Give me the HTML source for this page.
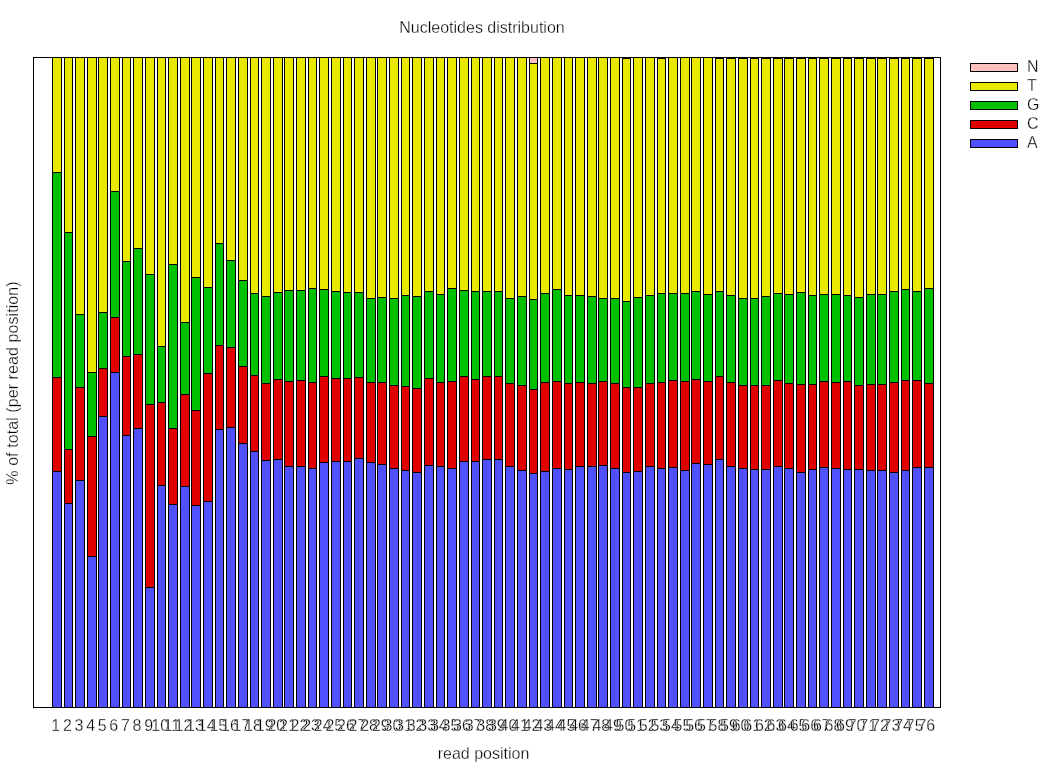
<!DOCTYPE html>
<html><head><meta charset="utf-8"><title>Nucleotides distribution</title>
<style>
html,body{margin:0;padding:0;background:#fff;}
body{width:1048px;height:768px;overflow:hidden;position:relative;font-family:"Liberation Sans",Arial,sans-serif;}
svg{position:absolute;left:0;top:0;}
text{font-family:"Liberation Sans",Arial,sans-serif;font-size:16px;fill:#000;stroke:#fff;stroke-width:.3px;}
</style></head><body>
<svg width="1048" height="768" viewBox="0 0 1048 768">
<rect x="0" y="0" width="1048" height="768" fill="#fff"/>
<g shape-rendering="crispEdges">
<rect x="33" y="57" width="908" height="651" fill="#000"/>
<rect x="34" y="58" width="906" height="649" fill="#fff"/>
<rect x="52" y="57" width="10" height="651" fill="#000"/><rect x="53" y="58" width="8" height="114" fill="#e8e800"/><rect x="53" y="173" width="8" height="204" fill="#00c000"/><rect x="53" y="378" width="8" height="93" fill="#e00000"/><rect x="53" y="472" width="8" height="235" fill="#5050ff"/>
<rect x="64" y="57" width="9" height="651" fill="#000"/><rect x="65" y="58" width="7" height="174" fill="#e8e800"/><rect x="65" y="233" width="7" height="216" fill="#00c000"/><rect x="65" y="450" width="7" height="53" fill="#e00000"/><rect x="65" y="504" width="7" height="203" fill="#5050ff"/>
<rect x="75" y="57" width="10" height="651" fill="#000"/><rect x="76" y="58" width="8" height="256" fill="#e8e800"/><rect x="76" y="315" width="8" height="72" fill="#00c000"/><rect x="76" y="388" width="8" height="92" fill="#e00000"/><rect x="76" y="481" width="8" height="226" fill="#5050ff"/>
<rect x="87" y="57" width="10" height="651" fill="#000"/><rect x="88" y="58" width="8" height="314" fill="#e8e800"/><rect x="88" y="373" width="8" height="63" fill="#00c000"/><rect x="88" y="437" width="8" height="119" fill="#e00000"/><rect x="88" y="557" width="8" height="150" fill="#5050ff"/>
<rect x="98" y="57" width="10" height="651" fill="#000"/><rect x="99" y="58" width="8" height="254" fill="#e8e800"/><rect x="99" y="313" width="8" height="55" fill="#00c000"/><rect x="99" y="369" width="8" height="47" fill="#e00000"/><rect x="99" y="417" width="8" height="290" fill="#5050ff"/>
<rect x="110" y="57" width="10" height="651" fill="#000"/><rect x="111" y="58" width="8" height="133" fill="#e8e800"/><rect x="111" y="192" width="8" height="125" fill="#00c000"/><rect x="111" y="318" width="8" height="54" fill="#e00000"/><rect x="111" y="373" width="8" height="334" fill="#5050ff"/>
<rect x="122" y="57" width="9" height="651" fill="#000"/><rect x="123" y="58" width="7" height="203" fill="#e8e800"/><rect x="123" y="262" width="7" height="94" fill="#00c000"/><rect x="123" y="357" width="7" height="78" fill="#e00000"/><rect x="123" y="436" width="7" height="271" fill="#5050ff"/>
<rect x="133" y="57" width="10" height="651" fill="#000"/><rect x="134" y="58" width="8" height="190" fill="#e8e800"/><rect x="134" y="249" width="8" height="105" fill="#00c000"/><rect x="134" y="355" width="8" height="73" fill="#e00000"/><rect x="134" y="429" width="8" height="278" fill="#5050ff"/>
<rect x="145" y="57" width="10" height="651" fill="#000"/><rect x="146" y="58" width="8" height="216" fill="#e8e800"/><rect x="146" y="275" width="8" height="129" fill="#00c000"/><rect x="146" y="405" width="8" height="182" fill="#e00000"/><rect x="146" y="588" width="8" height="119" fill="#5050ff"/>
<rect x="157" y="57" width="9" height="651" fill="#000"/><rect x="158" y="58" width="7" height="288" fill="#e8e800"/><rect x="158" y="347" width="7" height="55" fill="#00c000"/><rect x="158" y="403" width="7" height="82" fill="#e00000"/><rect x="158" y="486" width="7" height="221" fill="#5050ff"/>
<rect x="168" y="57" width="10" height="651" fill="#000"/><rect x="169" y="58" width="8" height="206" fill="#e8e800"/><rect x="169" y="265" width="8" height="163" fill="#00c000"/><rect x="169" y="429" width="8" height="75" fill="#e00000"/><rect x="169" y="505" width="8" height="202" fill="#5050ff"/>
<rect x="180" y="57" width="10" height="651" fill="#000"/><rect x="181" y="58" width="8" height="264" fill="#e8e800"/><rect x="181" y="323" width="8" height="71" fill="#00c000"/><rect x="181" y="395" width="8" height="91" fill="#e00000"/><rect x="181" y="487" width="8" height="220" fill="#5050ff"/>
<rect x="191" y="57" width="10" height="651" fill="#000"/><rect x="192" y="58" width="8" height="219" fill="#e8e800"/><rect x="192" y="278" width="8" height="132" fill="#00c000"/><rect x="192" y="411" width="8" height="94" fill="#e00000"/><rect x="192" y="506" width="8" height="201" fill="#5050ff"/>
<rect x="203" y="57" width="10" height="651" fill="#000"/><rect x="204" y="58" width="8" height="229" fill="#e8e800"/><rect x="204" y="288" width="8" height="85" fill="#00c000"/><rect x="204" y="374" width="8" height="127" fill="#e00000"/><rect x="204" y="502" width="8" height="205" fill="#5050ff"/>
<rect x="215" y="57" width="9" height="651" fill="#000"/><rect x="216" y="58" width="7" height="185" fill="#e8e800"/><rect x="216" y="244" width="7" height="101" fill="#00c000"/><rect x="216" y="346" width="7" height="83" fill="#e00000"/><rect x="216" y="430" width="7" height="277" fill="#5050ff"/>
<rect x="226" y="57" width="10" height="651" fill="#000"/><rect x="227" y="58" width="8" height="202" fill="#e8e800"/><rect x="227" y="261" width="8" height="86" fill="#00c000"/><rect x="227" y="348" width="8" height="79" fill="#e00000"/><rect x="227" y="428" width="8" height="279" fill="#5050ff"/>
<rect x="238" y="57" width="10" height="651" fill="#000"/><rect x="239" y="58" width="8" height="222" fill="#e8e800"/><rect x="239" y="281" width="8" height="85" fill="#00c000"/><rect x="239" y="367" width="8" height="76" fill="#e00000"/><rect x="239" y="444" width="8" height="263" fill="#5050ff"/>
<rect x="250" y="57" width="9" height="651" fill="#000"/><rect x="251" y="58" width="7" height="235" fill="#e8e800"/><rect x="251" y="294" width="7" height="81" fill="#00c000"/><rect x="251" y="376" width="7" height="75" fill="#e00000"/><rect x="251" y="452" width="7" height="255" fill="#5050ff"/>
<rect x="261" y="57" width="10" height="651" fill="#000"/><rect x="262" y="58" width="8" height="238" fill="#e8e800"/><rect x="262" y="297" width="8" height="86" fill="#00c000"/><rect x="262" y="384" width="8" height="76" fill="#e00000"/><rect x="262" y="461" width="8" height="246" fill="#5050ff"/>
<rect x="273" y="57" width="10" height="651" fill="#000"/><rect x="274" y="58" width="8" height="234" fill="#e8e800"/><rect x="274" y="293" width="8" height="86" fill="#00c000"/><rect x="274" y="380" width="8" height="79" fill="#e00000"/><rect x="274" y="460" width="8" height="247" fill="#5050ff"/>
<rect x="284" y="57" width="10" height="651" fill="#000"/><rect x="285" y="58" width="8" height="232" fill="#e8e800"/><rect x="285" y="291" width="8" height="90" fill="#00c000"/><rect x="285" y="382" width="8" height="84" fill="#e00000"/><rect x="285" y="467" width="8" height="240" fill="#5050ff"/>
<rect x="296" y="57" width="10" height="651" fill="#000"/><rect x="297" y="58" width="8" height="232" fill="#e8e800"/><rect x="297" y="291" width="8" height="89" fill="#00c000"/><rect x="297" y="381" width="8" height="85" fill="#e00000"/><rect x="297" y="467" width="8" height="240" fill="#5050ff"/>
<rect x="308" y="57" width="9" height="651" fill="#000"/><rect x="309" y="58" width="7" height="230" fill="#e8e800"/><rect x="309" y="289" width="7" height="93" fill="#00c000"/><rect x="309" y="383" width="7" height="85" fill="#e00000"/><rect x="309" y="469" width="7" height="238" fill="#5050ff"/>
<rect x="319" y="57" width="10" height="651" fill="#000"/><rect x="320" y="58" width="8" height="231" fill="#e8e800"/><rect x="320" y="290" width="8" height="86" fill="#00c000"/><rect x="320" y="377" width="8" height="85" fill="#e00000"/><rect x="320" y="463" width="8" height="244" fill="#5050ff"/>
<rect x="331" y="57" width="10" height="651" fill="#000"/><rect x="332" y="58" width="8" height="233" fill="#e8e800"/><rect x="332" y="292" width="8" height="86" fill="#00c000"/><rect x="332" y="379" width="8" height="82" fill="#e00000"/><rect x="332" y="462" width="8" height="245" fill="#5050ff"/>
<rect x="343" y="57" width="9" height="651" fill="#000"/><rect x="344" y="58" width="7" height="234" fill="#e8e800"/><rect x="344" y="293" width="7" height="85" fill="#00c000"/><rect x="344" y="379" width="7" height="82" fill="#e00000"/><rect x="344" y="462" width="7" height="245" fill="#5050ff"/>
<rect x="354" y="57" width="10" height="651" fill="#000"/><rect x="355" y="58" width="8" height="234" fill="#e8e800"/><rect x="355" y="293" width="8" height="84" fill="#00c000"/><rect x="355" y="378" width="8" height="80" fill="#e00000"/><rect x="355" y="459" width="8" height="248" fill="#5050ff"/>
<rect x="366" y="57" width="10" height="651" fill="#000"/><rect x="367" y="58" width="8" height="240" fill="#e8e800"/><rect x="367" y="299" width="8" height="83" fill="#00c000"/><rect x="367" y="383" width="8" height="79" fill="#e00000"/><rect x="367" y="463" width="8" height="244" fill="#5050ff"/>
<rect x="377" y="57" width="10" height="651" fill="#000"/><rect x="378" y="58" width="8" height="239" fill="#e8e800"/><rect x="378" y="298" width="8" height="84" fill="#00c000"/><rect x="378" y="383" width="8" height="81" fill="#e00000"/><rect x="378" y="465" width="8" height="242" fill="#5050ff"/>
<rect x="389" y="57" width="10" height="651" fill="#000"/><rect x="390" y="58" width="8" height="240" fill="#e8e800"/><rect x="390" y="299" width="8" height="86" fill="#00c000"/><rect x="390" y="386" width="8" height="82" fill="#e00000"/><rect x="390" y="469" width="8" height="238" fill="#5050ff"/>
<rect x="401" y="57" width="9" height="651" fill="#000"/><rect x="402" y="58" width="7" height="237" fill="#e8e800"/><rect x="402" y="296" width="7" height="90" fill="#00c000"/><rect x="402" y="387" width="7" height="83" fill="#e00000"/><rect x="402" y="471" width="7" height="236" fill="#5050ff"/>
<rect x="412" y="57" width="10" height="651" fill="#000"/><rect x="413" y="58" width="8" height="238" fill="#e8e800"/><rect x="413" y="297" width="8" height="91" fill="#00c000"/><rect x="413" y="389" width="8" height="83" fill="#e00000"/><rect x="413" y="473" width="8" height="234" fill="#5050ff"/>
<rect x="424" y="57" width="10" height="651" fill="#000"/><rect x="425" y="58" width="8" height="233" fill="#e8e800"/><rect x="425" y="292" width="8" height="86" fill="#00c000"/><rect x="425" y="379" width="8" height="86" fill="#e00000"/><rect x="425" y="466" width="8" height="241" fill="#5050ff"/>
<rect x="436" y="57" width="9" height="651" fill="#000"/><rect x="437" y="58" width="7" height="236" fill="#e8e800"/><rect x="437" y="295" width="7" height="87" fill="#00c000"/><rect x="437" y="383" width="7" height="83" fill="#e00000"/><rect x="437" y="467" width="7" height="240" fill="#5050ff"/>
<rect x="447" y="57" width="10" height="651" fill="#000"/><rect x="448" y="58" width="8" height="230" fill="#e8e800"/><rect x="448" y="289" width="8" height="92" fill="#00c000"/><rect x="448" y="382" width="8" height="86" fill="#e00000"/><rect x="448" y="469" width="8" height="238" fill="#5050ff"/>
<rect x="459" y="57" width="10" height="651" fill="#000"/><rect x="460" y="58" width="8" height="232" fill="#e8e800"/><rect x="460" y="291" width="8" height="85" fill="#00c000"/><rect x="460" y="377" width="8" height="84" fill="#e00000"/><rect x="460" y="462" width="8" height="245" fill="#5050ff"/>
<rect x="471" y="57" width="9" height="651" fill="#000"/><rect x="472" y="58" width="7" height="233" fill="#e8e800"/><rect x="472" y="292" width="7" height="87" fill="#00c000"/><rect x="472" y="380" width="7" height="81" fill="#e00000"/><rect x="472" y="462" width="7" height="245" fill="#5050ff"/>
<rect x="482" y="57" width="10" height="651" fill="#000"/><rect x="483" y="58" width="8" height="233" fill="#e8e800"/><rect x="483" y="292" width="8" height="84" fill="#00c000"/><rect x="483" y="377" width="8" height="82" fill="#e00000"/><rect x="483" y="460" width="8" height="247" fill="#5050ff"/>
<rect x="494" y="57" width="9" height="651" fill="#000"/><rect x="495" y="58" width="7" height="233" fill="#e8e800"/><rect x="495" y="292" width="7" height="84" fill="#00c000"/><rect x="495" y="377" width="7" height="82" fill="#e00000"/><rect x="495" y="460" width="7" height="247" fill="#5050ff"/>
<rect x="505" y="57" width="10" height="651" fill="#000"/><rect x="506" y="58" width="8" height="240" fill="#e8e800"/><rect x="506" y="299" width="8" height="84" fill="#00c000"/><rect x="506" y="384" width="8" height="82" fill="#e00000"/><rect x="506" y="467" width="8" height="240" fill="#5050ff"/>
<rect x="517" y="57" width="10" height="651" fill="#000"/><rect x="518" y="58" width="8" height="238" fill="#e8e800"/><rect x="518" y="297" width="8" height="88" fill="#00c000"/><rect x="518" y="386" width="8" height="84" fill="#e00000"/><rect x="518" y="471" width="8" height="236" fill="#5050ff"/>
<rect x="529" y="57" width="9" height="651" fill="#000"/><rect x="530" y="58" width="7" height="5" fill="#ffc0c0"/><rect x="530" y="64" width="7" height="235" fill="#e8e800"/><rect x="530" y="300" width="7" height="89" fill="#00c000"/><rect x="530" y="390" width="7" height="83" fill="#e00000"/><rect x="530" y="474" width="7" height="233" fill="#5050ff"/>
<rect x="540" y="57" width="10" height="651" fill="#000"/><rect x="541" y="58" width="8" height="235" fill="#e8e800"/><rect x="541" y="294" width="8" height="88" fill="#00c000"/><rect x="541" y="383" width="8" height="88" fill="#e00000"/><rect x="541" y="472" width="8" height="235" fill="#5050ff"/>
<rect x="552" y="57" width="10" height="651" fill="#000"/><rect x="553" y="58" width="8" height="231" fill="#e8e800"/><rect x="553" y="290" width="8" height="91" fill="#00c000"/><rect x="553" y="382" width="8" height="86" fill="#e00000"/><rect x="553" y="469" width="8" height="238" fill="#5050ff"/>
<rect x="564" y="57" width="9" height="651" fill="#000"/><rect x="565" y="58" width="7" height="237" fill="#e8e800"/><rect x="565" y="296" width="7" height="87" fill="#00c000"/><rect x="565" y="384" width="7" height="85" fill="#e00000"/><rect x="565" y="470" width="7" height="237" fill="#5050ff"/>
<rect x="575" y="57" width="10" height="651" fill="#000"/><rect x="576" y="58" width="8" height="237" fill="#e8e800"/><rect x="576" y="296" width="8" height="86" fill="#00c000"/><rect x="576" y="383" width="8" height="83" fill="#e00000"/><rect x="576" y="467" width="8" height="240" fill="#5050ff"/>
<rect x="587" y="57" width="10" height="651" fill="#000"/><rect x="588" y="58" width="8" height="238" fill="#e8e800"/><rect x="588" y="297" width="8" height="86" fill="#00c000"/><rect x="588" y="384" width="8" height="82" fill="#e00000"/><rect x="588" y="467" width="8" height="240" fill="#5050ff"/>
<rect x="598" y="57" width="10" height="651" fill="#000"/><rect x="599" y="58" width="8" height="240" fill="#e8e800"/><rect x="599" y="299" width="8" height="82" fill="#00c000"/><rect x="599" y="382" width="8" height="83" fill="#e00000"/><rect x="599" y="466" width="8" height="241" fill="#5050ff"/>
<rect x="610" y="57" width="10" height="651" fill="#000"/><rect x="611" y="58" width="8" height="240" fill="#e8e800"/><rect x="611" y="299" width="8" height="84" fill="#00c000"/><rect x="611" y="384" width="8" height="84" fill="#e00000"/><rect x="611" y="469" width="8" height="238" fill="#5050ff"/>
<rect x="622" y="57" width="9" height="651" fill="#000"/><rect x="623" y="59" width="7" height="242" fill="#e8e800"/><rect x="623" y="302" width="7" height="85" fill="#00c000"/><rect x="623" y="388" width="7" height="84" fill="#e00000"/><rect x="623" y="473" width="7" height="234" fill="#5050ff"/>
<rect x="633" y="57" width="10" height="651" fill="#000"/><rect x="634" y="58" width="8" height="239" fill="#e8e800"/><rect x="634" y="298" width="8" height="89" fill="#00c000"/><rect x="634" y="388" width="8" height="83" fill="#e00000"/><rect x="634" y="472" width="8" height="235" fill="#5050ff"/>
<rect x="645" y="57" width="10" height="651" fill="#000"/><rect x="646" y="58" width="8" height="237" fill="#e8e800"/><rect x="646" y="296" width="8" height="87" fill="#00c000"/><rect x="646" y="384" width="8" height="82" fill="#e00000"/><rect x="646" y="467" width="8" height="240" fill="#5050ff"/>
<rect x="657" y="57" width="9" height="651" fill="#000"/><rect x="658" y="59" width="7" height="234" fill="#e8e800"/><rect x="658" y="294" width="7" height="88" fill="#00c000"/><rect x="658" y="383" width="7" height="85" fill="#e00000"/><rect x="658" y="469" width="7" height="238" fill="#5050ff"/>
<rect x="668" y="57" width="10" height="651" fill="#000"/><rect x="669" y="58" width="8" height="235" fill="#e8e800"/><rect x="669" y="294" width="8" height="86" fill="#00c000"/><rect x="669" y="381" width="8" height="86" fill="#e00000"/><rect x="669" y="468" width="8" height="239" fill="#5050ff"/>
<rect x="680" y="57" width="10" height="651" fill="#000"/><rect x="681" y="58" width="8" height="235" fill="#e8e800"/><rect x="681" y="294" width="8" height="87" fill="#00c000"/><rect x="681" y="382" width="8" height="88" fill="#e00000"/><rect x="681" y="471" width="8" height="236" fill="#5050ff"/>
<rect x="691" y="57" width="10" height="651" fill="#000"/><rect x="692" y="58" width="8" height="233" fill="#e8e800"/><rect x="692" y="292" width="8" height="87" fill="#00c000"/><rect x="692" y="380" width="8" height="83" fill="#e00000"/><rect x="692" y="464" width="8" height="243" fill="#5050ff"/>
<rect x="703" y="57" width="10" height="651" fill="#000"/><rect x="704" y="58" width="8" height="236" fill="#e8e800"/><rect x="704" y="295" width="8" height="86" fill="#00c000"/><rect x="704" y="382" width="8" height="82" fill="#e00000"/><rect x="704" y="465" width="8" height="242" fill="#5050ff"/>
<rect x="715" y="57" width="9" height="651" fill="#000"/><rect x="716" y="59" width="7" height="232" fill="#e8e800"/><rect x="716" y="292" width="7" height="84" fill="#00c000"/><rect x="716" y="377" width="7" height="82" fill="#e00000"/><rect x="716" y="460" width="7" height="247" fill="#5050ff"/>
<rect x="726" y="57" width="10" height="651" fill="#000"/><rect x="727" y="59" width="8" height="236" fill="#e8e800"/><rect x="727" y="296" width="8" height="86" fill="#00c000"/><rect x="727" y="383" width="8" height="83" fill="#e00000"/><rect x="727" y="467" width="8" height="240" fill="#5050ff"/>
<rect x="738" y="57" width="10" height="651" fill="#000"/><rect x="739" y="59" width="8" height="239" fill="#e8e800"/><rect x="739" y="299" width="8" height="86" fill="#00c000"/><rect x="739" y="386" width="8" height="82" fill="#e00000"/><rect x="739" y="469" width="8" height="238" fill="#5050ff"/>
<rect x="750" y="57" width="9" height="651" fill="#000"/><rect x="751" y="59" width="7" height="239" fill="#e8e800"/><rect x="751" y="299" width="7" height="86" fill="#00c000"/><rect x="751" y="386" width="7" height="83" fill="#e00000"/><rect x="751" y="470" width="7" height="237" fill="#5050ff"/>
<rect x="761" y="57" width="10" height="651" fill="#000"/><rect x="762" y="59" width="8" height="237" fill="#e8e800"/><rect x="762" y="297" width="8" height="88" fill="#00c000"/><rect x="762" y="386" width="8" height="83" fill="#e00000"/><rect x="762" y="470" width="8" height="237" fill="#5050ff"/>
<rect x="773" y="57" width="10" height="651" fill="#000"/><rect x="774" y="59" width="8" height="234" fill="#e8e800"/><rect x="774" y="294" width="8" height="86" fill="#00c000"/><rect x="774" y="381" width="8" height="85" fill="#e00000"/><rect x="774" y="467" width="8" height="240" fill="#5050ff"/>
<rect x="784" y="57" width="10" height="651" fill="#000"/><rect x="785" y="59" width="8" height="235" fill="#e8e800"/><rect x="785" y="295" width="8" height="88" fill="#00c000"/><rect x="785" y="384" width="8" height="84" fill="#e00000"/><rect x="785" y="469" width="8" height="238" fill="#5050ff"/>
<rect x="796" y="57" width="10" height="651" fill="#000"/><rect x="797" y="59" width="8" height="233" fill="#e8e800"/><rect x="797" y="293" width="8" height="91" fill="#00c000"/><rect x="797" y="385" width="8" height="87" fill="#e00000"/><rect x="797" y="473" width="8" height="234" fill="#5050ff"/>
<rect x="808" y="57" width="9" height="651" fill="#000"/><rect x="809" y="59" width="7" height="236" fill="#e8e800"/><rect x="809" y="296" width="7" height="88" fill="#00c000"/><rect x="809" y="385" width="7" height="84" fill="#e00000"/><rect x="809" y="470" width="7" height="237" fill="#5050ff"/>
<rect x="819" y="57" width="10" height="651" fill="#000"/><rect x="820" y="59" width="8" height="235" fill="#e8e800"/><rect x="820" y="295" width="8" height="86" fill="#00c000"/><rect x="820" y="382" width="8" height="85" fill="#e00000"/><rect x="820" y="468" width="8" height="239" fill="#5050ff"/>
<rect x="831" y="57" width="10" height="651" fill="#000"/><rect x="832" y="59" width="8" height="235" fill="#e8e800"/><rect x="832" y="295" width="8" height="87" fill="#00c000"/><rect x="832" y="383" width="8" height="85" fill="#e00000"/><rect x="832" y="469" width="8" height="238" fill="#5050ff"/>
<rect x="843" y="57" width="9" height="651" fill="#000"/><rect x="844" y="59" width="7" height="236" fill="#e8e800"/><rect x="844" y="296" width="7" height="85" fill="#00c000"/><rect x="844" y="382" width="7" height="87" fill="#e00000"/><rect x="844" y="470" width="7" height="237" fill="#5050ff"/>
<rect x="854" y="57" width="10" height="651" fill="#000"/><rect x="855" y="59" width="8" height="238" fill="#e8e800"/><rect x="855" y="298" width="8" height="87" fill="#00c000"/><rect x="855" y="386" width="8" height="83" fill="#e00000"/><rect x="855" y="470" width="8" height="237" fill="#5050ff"/>
<rect x="866" y="57" width="10" height="651" fill="#000"/><rect x="867" y="59" width="8" height="235" fill="#e8e800"/><rect x="867" y="295" width="8" height="89" fill="#00c000"/><rect x="867" y="385" width="8" height="85" fill="#e00000"/><rect x="867" y="471" width="8" height="236" fill="#5050ff"/>
<rect x="877" y="57" width="10" height="651" fill="#000"/><rect x="878" y="59" width="8" height="235" fill="#e8e800"/><rect x="878" y="295" width="8" height="89" fill="#00c000"/><rect x="878" y="385" width="8" height="85" fill="#e00000"/><rect x="878" y="471" width="8" height="236" fill="#5050ff"/>
<rect x="889" y="57" width="10" height="651" fill="#000"/><rect x="890" y="59" width="8" height="232" fill="#e8e800"/><rect x="890" y="292" width="8" height="90" fill="#00c000"/><rect x="890" y="383" width="8" height="89" fill="#e00000"/><rect x="890" y="473" width="8" height="234" fill="#5050ff"/>
<rect x="901" y="57" width="9" height="651" fill="#000"/><rect x="902" y="59" width="7" height="230" fill="#e8e800"/><rect x="902" y="290" width="7" height="90" fill="#00c000"/><rect x="902" y="381" width="7" height="89" fill="#e00000"/><rect x="902" y="471" width="7" height="236" fill="#5050ff"/>
<rect x="912" y="57" width="10" height="651" fill="#000"/><rect x="913" y="59" width="8" height="232" fill="#e8e800"/><rect x="913" y="292" width="8" height="88" fill="#00c000"/><rect x="913" y="381" width="8" height="86" fill="#e00000"/><rect x="913" y="468" width="8" height="239" fill="#5050ff"/>
<rect x="924" y="57" width="10" height="651" fill="#000"/><rect x="925" y="59" width="8" height="229" fill="#e8e800"/><rect x="925" y="289" width="8" height="94" fill="#00c000"/><rect x="925" y="384" width="8" height="83" fill="#e00000"/><rect x="925" y="468" width="8" height="239" fill="#5050ff"/>
<rect x="970" y="63" width="48" height="9" fill="#000"/><rect x="971" y="64" width="46" height="7" fill="#ffc0c0"/>
<rect x="970" y="82" width="48" height="9" fill="#000"/><rect x="971" y="83" width="46" height="7" fill="#e8e800"/>
<rect x="970" y="101" width="48" height="9" fill="#000"/><rect x="971" y="102" width="46" height="7" fill="#00c000"/>
<rect x="970" y="120" width="48" height="9" fill="#000"/><rect x="971" y="121" width="46" height="7" fill="#e00000"/>
<rect x="970" y="139" width="48" height="9" fill="#000"/><rect x="971" y="140" width="46" height="7" fill="#5050ff"/>
</g>
<text x="1027" y="72">N</text>
<text x="1027" y="91">T</text>
<text x="1027" y="110">G</text>
<text x="1027" y="129">C</text>
<text x="1027" y="148">A</text>
<text x="482" y="32.5" text-anchor="middle">Nucleotides distribution</text>
<text x="483.5" y="758.5" text-anchor="middle">read position</text>
<text transform="translate(17.6,383) rotate(-90)" text-anchor="middle" letter-spacing="0.08">% of total (per read position)</text>
<g text-anchor="middle">
<text x="55.8" y="731">1</text><text x="67.4" y="731">2</text><text x="79.0" y="731">3</text><text x="90.6" y="731">4</text><text x="102.2" y="731">5</text><text x="113.8" y="731">6</text><text x="125.4" y="731">7</text><text x="137.0" y="731">8</text><text x="148.6" y="731">9</text><text x="160.2" y="731">10</text>
<text x="171.8" y="731">11</text><text x="183.4" y="731">12</text><text x="195.0" y="731">13</text><text x="206.7" y="731">14</text><text x="218.3" y="731">15</text><text x="229.9" y="731">16</text><text x="241.5" y="731">17</text><text x="253.1" y="731">18</text><text x="264.7" y="731">19</text><text x="276.3" y="731">20</text>
<text x="287.9" y="731">21</text><text x="299.5" y="731">22</text><text x="311.1" y="731">23</text><text x="322.7" y="731">24</text><text x="334.3" y="731">25</text><text x="345.9" y="731">26</text><text x="357.5" y="731">27</text><text x="369.1" y="731">28</text><text x="380.8" y="731">29</text><text x="392.4" y="731">30</text>
<text x="404.0" y="731">31</text><text x="415.6" y="731">32</text><text x="427.2" y="731">33</text><text x="438.8" y="731">34</text><text x="450.4" y="731">35</text><text x="462.0" y="731">36</text><text x="473.6" y="731">37</text><text x="485.2" y="731">38</text><text x="496.8" y="731">39</text><text x="508.4" y="731">40</text>
<text x="520.0" y="731">41</text><text x="531.6" y="731">42</text><text x="543.3" y="731">43</text><text x="554.9" y="731">44</text><text x="566.5" y="731">45</text><text x="578.1" y="731">46</text><text x="589.7" y="731">47</text><text x="601.3" y="731">48</text><text x="612.9" y="731">49</text><text x="624.5" y="731">50</text>
<text x="636.1" y="731">51</text><text x="647.7" y="731">52</text><text x="659.3" y="731">53</text><text x="670.9" y="731">54</text><text x="682.5" y="731">55</text><text x="694.1" y="731">56</text><text x="705.8" y="731">57</text><text x="717.4" y="731">58</text><text x="729.0" y="731">59</text><text x="740.6" y="731">60</text>
<text x="752.2" y="731">61</text><text x="763.8" y="731">62</text><text x="775.4" y="731">63</text><text x="787.0" y="731">64</text><text x="798.6" y="731">65</text><text x="810.2" y="731">66</text><text x="821.8" y="731">67</text><text x="833.4" y="731">68</text><text x="845.0" y="731">69</text><text x="856.6" y="731">70</text>
<text x="868.2" y="731">71</text><text x="879.9" y="731">72</text><text x="891.5" y="731">73</text><text x="903.1" y="731">74</text><text x="914.7" y="731">75</text><text x="926.3" y="731">76</text>
</g>
</svg>
</body></html>
